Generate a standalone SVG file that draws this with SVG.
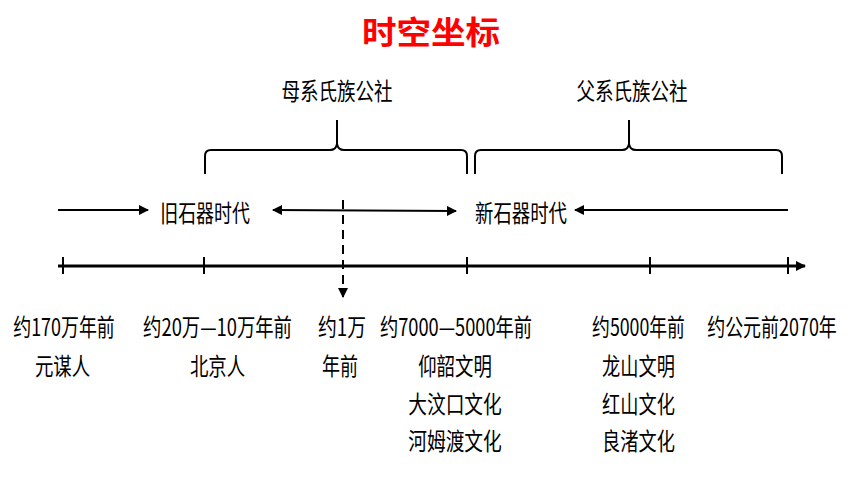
<svg xmlns="http://www.w3.org/2000/svg" width="860" height="484" viewBox="0 0 860 484">
<defs>
<marker id="ah" viewBox="0 0 10 10" refX="9" refY="5" markerWidth="10" markerHeight="10" markerUnits="userSpaceOnUse" orient="auto-start-reverse">
<path d="M0,0 L10,5 L0,10 Z" fill="#000"/>
</marker>
</defs>
<style>
text{font-family:"Noto Sans CJK SC","Noto Sans CJK TC",sans-serif;fill:#000;}
.t{font-size:24px;text-anchor:middle;}
.title{font-size:32px;font-weight:bold;fill:#ff0000;text-anchor:middle;}
.ln{stroke:#000;stroke-width:2;fill:none;}
.br{stroke:#000;stroke-width:2;fill:none;}
</style>
<rect width="860" height="484" fill="#fff"/>
<text class="title" x="431" y="44" textLength="138" lengthAdjust="spacingAndGlyphs">时空坐标</text>

<g id="matriarchal">
<text class="t" transform="translate(337,100) scale(0.8,1)" textLength="139" lengthAdjust="spacingAndGlyphs">母系氏族公社</text>
<path class="br" d="M205,174 L205,156 Q205,150 211,150 L330,150 Q336,150 337,144 L337,120 M337,144 Q338,150 344,150 L461,150 Q467,150 467,156 L467,174"/>
</g>
<g id="patriarchal">
<text class="t" transform="translate(632,100) scale(0.8,1)" textLength="139" lengthAdjust="spacingAndGlyphs">父系氏族公社</text>
<path class="br" d="M475,174 L475,156 Q475,150 481,150 L622,150 Q628,150 629,144 L629,120 M629,144 Q630,150 636,150 L776,150 Q782,150 782,156 L782,174"/>
</g>

<g id="paleolithic">
<text class="t" transform="translate(205,222) scale(0.8,1)" textLength="112" lengthAdjust="spacingAndGlyphs">旧石器时代</text>
</g>
<g id="neolithic">
<text class="t" transform="translate(521,222) scale(0.8,1)" textLength="115" lengthAdjust="spacingAndGlyphs">新石器时代</text>
</g>

<g id="connectors">
<line class="ln" x1="58" y1="210" x2="148" y2="210" marker-end="url(#ah)"/>
<line class="ln" x1="273" y1="210" x2="456" y2="211" marker-start="url(#ah)" marker-end="url(#ah)"/>
<line class="ln" x1="788" y1="210" x2="575" y2="210" marker-end="url(#ah)"/>
<line class="ln" x1="343" y1="200" x2="343" y2="297" stroke-dasharray="9,6" marker-end="url(#ah)"/>
<line x1="58" y1="266" x2="805" y2="266" stroke="#000" stroke-width="3" marker-end="url(#ah)"/>
<g stroke="#000" stroke-width="2">
<line x1="63" y1="257" x2="63" y2="274"/>
<line x1="204" y1="257" x2="204" y2="274"/>
<line x1="467" y1="257" x2="467" y2="274"/>
<line x1="650" y1="257" x2="650" y2="274"/>
<line x1="788" y1="257" x2="788" y2="274"/>
</g>
</g>

<g id="yuanmou">
<text class="t" transform="translate(64,336) scale(0.8,1)" textLength="127" lengthAdjust="spacingAndGlyphs">约170万年前</text>
<text class="t" transform="translate(62.5,375) scale(0.8,1)" textLength="69" lengthAdjust="spacingAndGlyphs">元谋人</text>
</g>
<g id="beijing">
<text class="t" transform="translate(217.5,336) scale(0.8,1)" textLength="186" lengthAdjust="spacingAndGlyphs">约20万—10万年前</text>
<text class="t" transform="translate(217.5,375) scale(0.8,1)" textLength="69" lengthAdjust="spacingAndGlyphs">北京人</text>
</g>
<g id="tenk">
<text class="t" transform="translate(342,336) scale(0.8,1)" textLength="60" lengthAdjust="spacingAndGlyphs">约1万</text>
<text class="t" transform="translate(340,375) scale(0.8,1)" textLength="45" lengthAdjust="spacingAndGlyphs">年前</text>
</g>
<g id="yangshao">
<text class="t" transform="translate(456,336) scale(0.8,1)" textLength="190" lengthAdjust="spacingAndGlyphs">约7000—5000年前</text>
<text class="t" transform="translate(455,375) scale(0.8,1)" textLength="92" lengthAdjust="spacingAndGlyphs">仰韶文明</text>
<text class="t" transform="translate(455,413) scale(0.8,1)" textLength="117" lengthAdjust="spacingAndGlyphs">大汶口文化</text>
<text class="t" transform="translate(455,450) scale(0.8,1)" textLength="117" lengthAdjust="spacingAndGlyphs">河姆渡文化</text>
</g>
<g id="longshan">
<text class="t" transform="translate(638.5,336) scale(0.8,1)" textLength="116" lengthAdjust="spacingAndGlyphs">约5000年前</text>
<text class="t" transform="translate(638.5,375) scale(0.8,1)" textLength="91" lengthAdjust="spacingAndGlyphs">龙山文明</text>
<text class="t" transform="translate(638.5,413) scale(0.8,1)" textLength="91" lengthAdjust="spacingAndGlyphs">红山文化</text>
<text class="t" transform="translate(638.5,450) scale(0.8,1)" textLength="91" lengthAdjust="spacingAndGlyphs">良渚文化</text>
</g>
<g id="xia">
<text class="t" transform="translate(772,336) scale(0.8,1)" textLength="162" lengthAdjust="spacingAndGlyphs">约公元前2070年</text>
</g>
</svg>
